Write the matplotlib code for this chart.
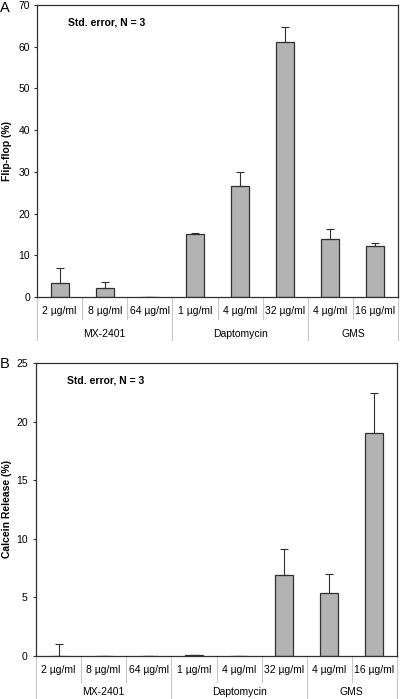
import matplotlib
matplotlib.use("Agg")
import matplotlib.pyplot as plt
import matplotlib.transforms as mtransforms
import numpy as np

plt.rcParams['font.family'] = ['Liberation Sans', 'DejaVu Sans']

categories = ["2 µg/ml", "8 µg/ml", "64 µg/ml", "1 µg/ml", "4 µg/ml", "32 µg/ml", "4 µg/ml", "16 µg/ml"]
groups = ["MX-2401", "Daptomycin", "GMS"]
group_sizes = [3, 3, 2]

flipflop = [3.3, 2.2, 0.0, 15.0, 26.6, 61.1, 14.0, 12.2]
flipflop_err = [3.6, 1.5, 0.0, 0.3, 3.3, 3.7, 2.2, 0.7]

calcein = [0.0, 0.0, 0.0, 0.05, 0.0, 6.9, 5.4, 19.0]
calcein_err = [1.0, 0.0, 0.0, 0.05, 0.0, 2.2, 1.6, 3.4]

W, H = 400, 699
fig = plt.figure(figsize=(W / 100, H / 100), dpi=100)

def make_panel(rect_px, vals, errs, ymax, ystep, ylabel, letter, letter_xy,
               cat_len, grp_len, grp_label_y, ypad):
    l, t, r, b = rect_px
    ax = fig.add_axes([l / W, 1 - b / H, (r - l) / W, (b - t) / H])
    hpx = b - t
    x = np.arange(len(vals))
    ax.bar(x, vals, width=0.4, color='#b3b3b3', edgecolor='#303030', linewidth=0.9, zorder=2)
    ax.errorbar(x, vals, yerr=[np.zeros(len(vals)), errs], fmt='none', ecolor='#303030',
                elinewidth=0.8, capsize=3, capthick=0.8, zorder=3)
    ax.set_xlim(-0.5, len(vals) - 0.5)
    ax.set_ylim(0, ymax)
    ax.set_yticks(np.arange(0, ymax + 0.1, ystep))
    ax.tick_params(axis='y', length=2.5, width=0.8, color='#303030', pad=ypad, labelsize=7.5)
    ax.set_xticks(x, categories)
    ax.tick_params(axis='x', length=0, pad=6.5, labelsize=7.5)
    for s in ax.spines.values():
        s.set_color('#303030')
        s.set_linewidth(0.9)
    trans = mtransforms.blended_transform_factory(ax.transData, ax.transAxes)
    bounds = np.cumsum([0] + group_sizes) - 0.5
    for xi in np.arange(0.5, len(vals) - 0.5, 1.0):
        if xi in bounds:
            continue
        ax.plot([xi, xi], [0, -cat_len / hpx], transform=trans, color='#c8c8c8',
                linewidth=0.8, clip_on=False)
    for xi in bounds:
        ax.plot([xi, xi], [0, -grp_len / hpx], transform=trans, color='#c8c8c8',
                linewidth=0.8, clip_on=False)
    for g, a, bnd in zip(groups, bounds[:-1], bounds[1:]):
        ax.text((a + bnd) / 2, -grp_label_y / hpx, g, transform=trans, ha='center',
                va='center', fontsize=7.5)
    ax.set_ylabel(ylabel, fontsize=7.5, fontweight='bold')
    ax.yaxis.set_label_coords(-(l - 7) / (r - l), 0.5)
    ax.yaxis.label.set_verticalalignment('center')
    ax.text(0.085, 0.94, "Std. error, N = 3", transform=ax.transAxes, fontsize=7.5,
            fontweight='bold', ha='left', va='center')
    fig.text(letter_xy[0] / W, 1 - letter_xy[1] / H, letter, fontsize=10.5,
             ha='left', va='center')
    return ax

make_panel((37, 5, 398, 297), flipflop, flipflop_err, 70, 10, "Flip-flop (%)", "A",
           (0, 8), 22, 43, 37, 2.5)
make_panel((36, 363, 397, 656), calcein, calcein_err, 25, 5, "Calcein Release (%)", "B",
           (0, 364), 26, 43, 36, 3.5)

fig.savefig("out.png", dpi=100)
